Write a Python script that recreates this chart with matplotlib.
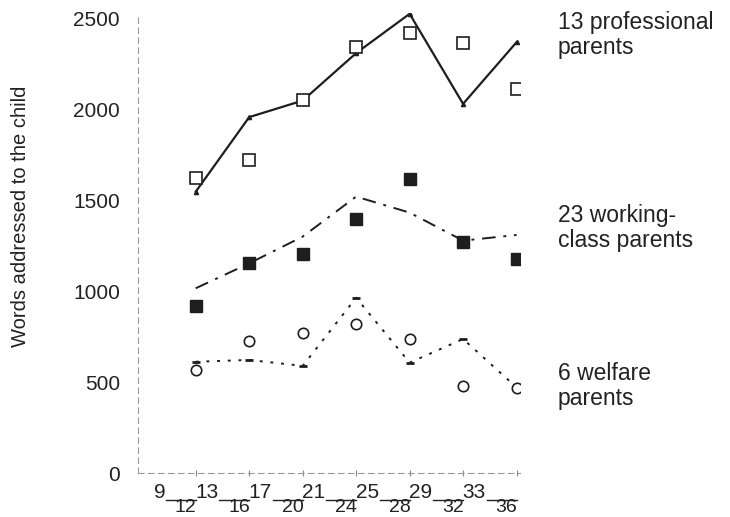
import numpy as np
import matplotlib.pyplot as plt
import matplotlib.transforms as mtransforms

plt.rcParams['font.family'] = ['Liberation Sans', 'DejaVu Sans']

# age bands (months)
age_lo = [9, 13, 17, 21, 25, 29, 33]
age_hi = [12, 16, 20, 24, 28, 32, 36]

# lines (one series per group) and scattered point values
prof_line = [1547, 1957, 2048, 2309, 2525, 2030, 2369]
prof_pts = [1621, 1722, 2052, 2345, 2422, 2367, 2112]
work_line = [1016, 1153, 1300, 1520, 1432, 1278, 1309]
work_pts = [919, 1153, 1205, 1395, 1617, 1269, 1175]
welf_line = [612, 622, 589, 964, 607, 737, 471]
welf_pts = [567, 728, 768, 820, 735, 479, 466]

group_labels = ["13 professional\nparents", "23 working-\nclass parents", "6 welfare\nparents"]
label_y = [2410, 1348, 478]

x = np.arange(1, len(age_lo) + 1)
ink = "#1e1e1e"

fig = plt.figure(figsize=(7.3, 5.17), dpi=100)
ax = fig.add_axes([0.189, 0.085, 0.523, 0.89])

ax.plot(x, prof_line, color=ink, lw=1.6, marker="^", ms=3)
ax.plot(x, work_line, color=ink, lw=1.4, linestyle=(0, (7, 4, 1.5, 4)))
ax.plot(x, welf_line, color=ink, lw=1.4, linestyle=(0, (1.5, 4)))
ax.plot(x, welf_line, color=ink, lw=0, marker="_", ms=6, mew=2)

ax.plot(x, prof_pts, ls="none", marker="s", ms=8, mfc="white", mec=ink, mew=1.2)
ax.plot(x, work_pts, ls="none", marker="s", ms=8, mfc=ink, mec=ink)
ax.plot(x, welf_pts, ls="none", marker="o", ms=7.5, mfc="white", mec=ink, mew=1.2)

for lab, yy in zip(group_labels, label_y):
    ax.text(7.77, yy, lab, fontsize=16.5, va="center", ha="left", color="#222", clip_on=False, linespacing=1.12)

ax.set_xlim(-0.08, 7.06)
ax.set_ylim(0, 2530)
ax.set_yticks([0, 500, 1000, 1500, 2000, 2500])
ax.tick_params(axis="y", length=0, pad=13, labelsize=15, labelcolor="#222")
ax.set_xticks(x)
ax.set_xticklabels([])
ax.tick_params(axis="x", length=4, direction="inout", color="#888")
ax.set_ylabel("Words addressed to the child", fontsize=14.5, color="#222")
ax.yaxis.set_label_coords(-0.283, 0.557)

for side in ["top", "right"]:
    ax.spines[side].set_visible(False)
for side in ["left", "bottom"]:
    ax.spines[side].set_linestyle((0, (5, 4)))
    ax.spines[side].set_color("#999")
    ax.spines[side].set_linewidth(0.8)

# stacked age-band tick labels: "9" then a bar with "12" under it
base = ax.get_xaxis_transform()
for xi, lo, hi in zip(x, age_lo, age_hi):
    ax.annotate(str(lo), xy=(xi, 0), xycoords=base, xytext=(-22, -14), textcoords="offset points",
                ha="right", va="center", fontsize=15, color="#222", annotation_clip=False)
    ax.annotate(str(hi), xy=(xi, 0), xycoords=base, xytext=(0.5, -24.5), textcoords="offset points",
                ha="right", va="center", fontsize=14, color="#222", annotation_clip=False)
    tr = base + mtransforms.ScaledTranslation(0, -19.5 / 72, fig.dpi_scale_trans)
    ax.plot([xi - 0.56, xi], [0, 0], transform=tr, color="#222", lw=1.0, clip_on=False)

fig.savefig("out.png", dpi=100)
